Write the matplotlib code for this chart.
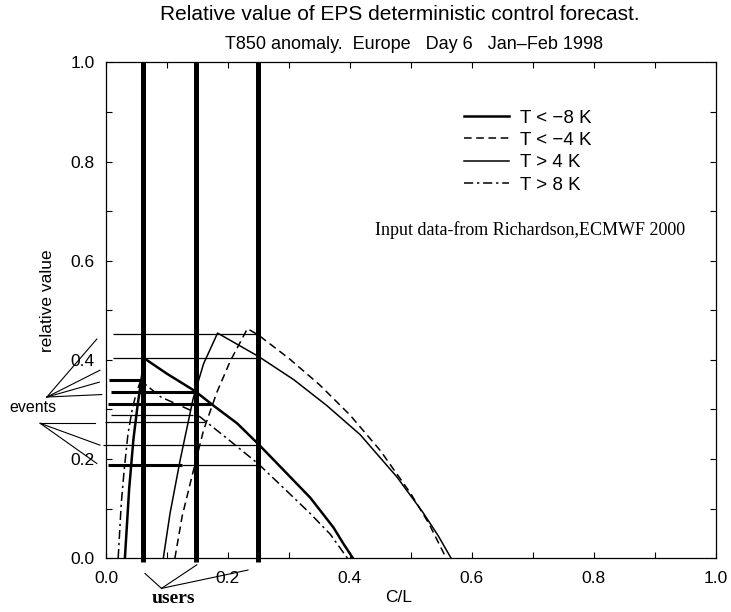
import matplotlib
matplotlib.use("Agg")
import matplotlib.pyplot as plt

plt.rcParams['font.family'] = ['Liberation Sans', 'DejaVu Sans']

# users (C/L of three users)
users = [0.06, 0.148, 0.25]

# T < -8 K
cold8_x = [0.031, 0.038, 0.045, 0.052, 0.058, 0.064, 0.10, 0.146, 0.176, 0.215, 0.25, 0.291, 0.335, 0.373, 0.39, 0.405]
cold8_y = [0.0, 0.14, 0.24, 0.31, 0.36, 0.402, 0.372, 0.337, 0.308, 0.272, 0.230, 0.178, 0.122, 0.062, 0.028, 0.0]

# T < -4 K
cold4_x = [0.113, 0.125, 0.141, 0.160, 0.182, 0.204, 0.232, 0.25, 0.30, 0.35, 0.40, 0.45, 0.50, 0.53, 0.558]
cold4_y = [0.0, 0.085, 0.165, 0.258, 0.335, 0.398, 0.463, 0.45, 0.403, 0.35, 0.289, 0.217, 0.13, 0.069, 0.0]

# T > 4 K
warm4_x = [0.094, 0.105, 0.122, 0.143, 0.160, 0.183, 0.25, 0.308, 0.362, 0.417, 0.477, 0.52, 0.545, 0.566]
warm4_y = [0.0, 0.09, 0.20, 0.322, 0.392, 0.454, 0.407, 0.36, 0.308, 0.249, 0.164, 0.092, 0.045, 0.0]

# T > 8 K
warm8_x = [0.020, 0.025, 0.030, 0.036, 0.043, 0.050, 0.057, 0.09, 0.143, 0.20, 0.25, 0.291, 0.335, 0.368, 0.396]
warm8_y = [0.0, 0.11, 0.18, 0.25, 0.30, 0.335, 0.358, 0.325, 0.296, 0.24, 0.19, 0.142, 0.09, 0.048, 0.0]

# value read-off lines: value, start, end, thick
event_vals = [0.453, 0.403, 0.359, 0.335, 0.311, 0.288, 0.274, 0.229, 0.188, 0.188]
event_x0 = [0.012, 0.012, 0.005, 0.008, 0.003, 0.008, -0.002, -0.005, 0.003, 0.125]
event_x1 = [0.25, 0.25, 0.06, 0.149, 0.173, 0.143, 0.163, 0.25, 0.125, 0.25]
event_thick = [False, False, True, True, True, False, False, False, True, False]

fig = plt.figure(figsize=(7.31, 6.12), dpi=100)
ax = fig.add_axes([0.145, 0.088, 0.834, 0.810])

ax.plot(cold8_x, cold8_y, color='black', lw=1.8, label='T < \u22128 K')
ax.plot(cold4_x, cold4_y, color='black', lw=1.1, ls=(0, (5, 3)), label='T < \u22124 K')
ax.plot(warm4_x, warm4_y, color='black', lw=1.1, label='T > 4 K')
ax.plot(warm8_x, warm8_y, color='black', lw=1.1, ls=(0, (6, 2.5, 1.5, 2.5)), label='T > 8 K')

for u in users:
    ax.plot([u, u], [-0.008, 1.0], color='black', lw=3.6, clip_on=False, solid_capstyle='butt')

for v, x0, x1, th in zip(event_vals, event_x0, event_x1, event_thick):
    ax.plot([x0, x1], [v, v], color='black', lw=2.2 if th else 0.9, clip_on=False, solid_capstyle='butt')

ax.set_xlim(0, 1)
ax.set_ylim(0, 1)
ax.set_xticks([0.0, 0.2, 0.4, 0.6, 0.8, 1.0])
ax.set_yticks([0.0, 0.2, 0.4, 0.6, 0.8, 1.0])
ax.set_xticks([0.1, 0.3, 0.5, 0.7, 0.9], minor=True)
ax.set_yticks([0.1, 0.3, 0.5, 0.7, 0.9], minor=True)
ax.tick_params(which='both', direction='in', top=True, right=True, length=4, width=0.8, labelsize=12.5)
ax.tick_params(axis='x', pad=9)
ax.tick_params(axis='y', pad=8)
for s in ax.spines.values():
    s.set_linewidth(0.9)

ax.set_xlabel('C/L', fontsize=12.5, labelpad=4)
ax.xaxis.set_label_coords(0.48, -0.065)
ax.set_ylabel('relative value', fontsize=12.5, labelpad=8)
ax.yaxis.set_label_coords(-0.083, 0.52)

ax.legend(loc='upper left', bbox_to_anchor=(0.588, 0.905), frameon=False, fontsize=13.5,
          handlelength=2.4, handletextpad=0.55, labelspacing=0.28, borderpad=0, borderaxespad=0)

ax.text(0.441, 0.661, 'Input data-from Richardson,ECMWF 2000', transform=ax.transAxes,
        family='Liberation Serif', fontsize=13, va='center', ha='left')

# "events" call-outs
ax.text(-0.12, 0.304, 'events', fontsize=11.5, ha='center', va='center', clip_on=False)
for tx, ty in [(-0.015, 0.442), (-0.010, 0.379), (-0.011, 0.355), (-0.007, 0.330)]:
    ax.plot([-0.097, tx], [0.325, ty], color='black', lw=0.8, clip_on=False)
for tx, ty in [(-0.018, 0.272), (-0.010, 0.228), (-0.015, 0.191)]:
    ax.plot([-0.108, tx], [0.272, ty], color='black', lw=0.8, clip_on=False)

# "users" call-outs
ax.text(0.11, -0.081, 'users', family='Liberation Serif', weight='bold', fontsize=14,
        ha='center', va='center', clip_on=False)
for tx, ty in [(0.064, -0.031), (0.149, -0.0135), (0.233, -0.024)]:
    ax.plot([0.091, tx], [-0.061, ty], color='black', lw=0.8, clip_on=False)

fig.text(0.547, 0.977, 'Relative value of EPS deterministic control forecast.', ha='center', va='center',
         fontsize=15)
fig.text(0.567, 0.927, 'T850 anomaly.  Europe   Day 6   Jan\u2013Feb 1998', ha='center', va='center',
         fontsize=13)

fig.savefig('out.png', dpi=100)
